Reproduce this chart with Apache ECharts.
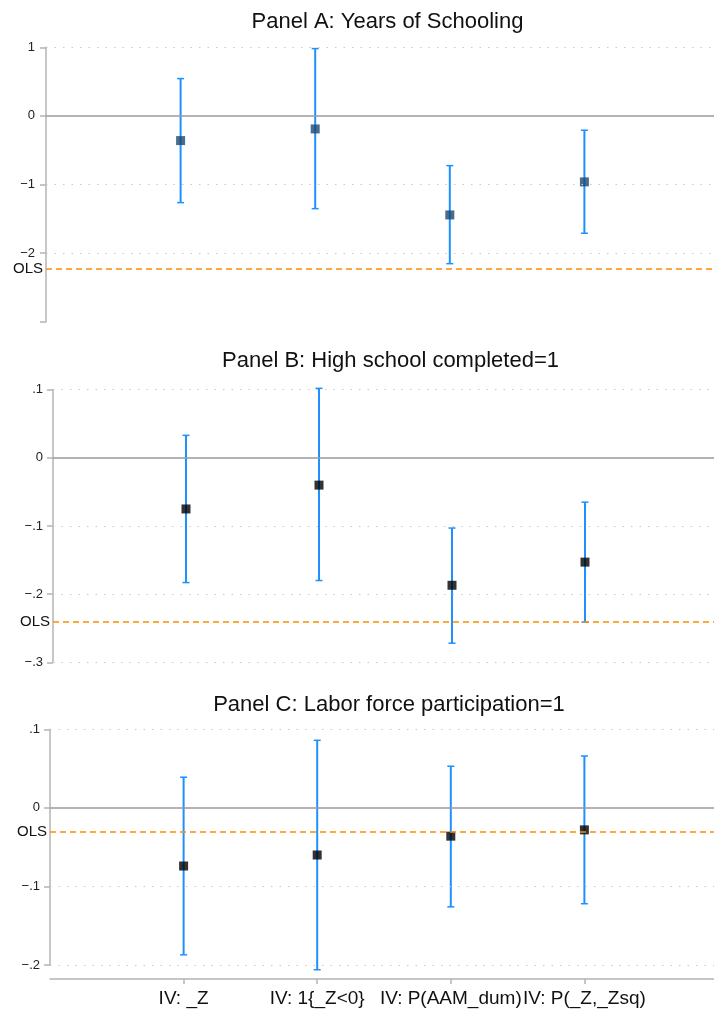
<!DOCTYPE html>
<html>
<head>
<meta charset="utf-8">
<script src="https://cdn.jsdelivr.net/npm/echarts@6/dist/echarts.min.js"></script>
<style>
  html, body { margin: 0; padding: 0; background: #fff; }
  #chart { width: 714px; height: 1013px; }
</style>
</head>
<body>
<div id="chart"></div>
<script>
// Instrument specifications shown on the shared x axis
const categories = ['IV: _Z', 'IV: 1{_Z<0}', 'IV: P(AAM_dum)', 'IV: P(_Z,_Zsq)'];

// Panel A: years of schooling
const schoolingEst = [-0.360, -0.190, -1.444, -0.962];
const schoolingLo  = [-1.264, -1.352, -2.154, -1.711];
const schoolingHi  = [0.544, 0.981, -0.725, -0.209];
const schoolingOLS = -2.227;
const ticksA  = [1, 0, -1, -2, -3];
const labelsA = ['1', '0', '\u22121', '\u22122', ''];

// Panel B: high school completed
const highSchoolEst = [-0.075, -0.040, -0.187, -0.153];
const highSchoolLo  = [-0.183, -0.180, -0.272, -0.241];
const highSchoolHi  = [0.033, 0.102, -0.103, -0.065];
const highSchoolOLS = -0.242;
const ticksB  = [0.1, 0, -0.1, -0.2, -0.3];
const labelsB = ['.1', '0', '\u2212.1', '\u2212.2', '\u2212.3'];

// Panel C: labor force participation
const laborEst = [-0.074, -0.060, -0.036, -0.028];
const laborLo  = [-0.187, -0.206, -0.126, -0.122];
const laborHi  = [0.039, 0.086, 0.053, 0.066];
const laborOLS = -0.034;
const ticksC  = [0.1, 0, -0.1, -0.2];
const labelsC = ['.1', '0', '\u2212.1', '\u2212.2'];

const FONT = "'Liberation Sans', Arial, Helvetica, sans-serif";
const CI_COLOR = '#1e90ff';
const AXIS_GREY = '#b4b4b4';

// Category slots padded with an empty slot at each end so the estimates sit inside the frame
const xSlots = [''].concat(categories, ['']);

const panels = [
  { title: 'Panel A: Years of Schooling', est: schoolingEst, lo: schoolingLo, hi: schoolingHi,
    ols: schoolingOLS, ticks: ticksA, labels: labelsA, step: 1, marker: '#1a476f',
    grid: { left: 46, top: 47.3, width: 673, height: 274.4 }, titleTop: 6, labelMargin: 11 },
  { title: 'Panel B: High school completed=1', est: highSchoolEst, lo: highSchoolLo, hi: highSchoolHi,
    ols: highSchoolOLS, ticks: ticksB, labels: labelsB, step: 0.1, marker: '#000000',
    grid: { left: 53, top: 389.7, width: 665, height: 272.6 }, titleTop: 345, labelMargin: 10 },
  { title: 'Panel C: Labor force participation=1', est: laborEst, lo: laborLo, hi: laborHi,
    ols: laborOLS, ticks: ticksC, labels: labelsC, step: 0.1, marker: '#000000',
    grid: { left: 50, top: 729.3, width: 668, height: 235.7 }, titleTop: 689, labelMargin: 10, showX: true }
];

const option = {
  animation: false,
  backgroundColor: '#ffffff',
  textStyle: { fontFamily: FONT },
  title: [], grid: [], xAxis: [], yAxis: [], series: []
};

panels.forEach((p, k) => {
  option.title.push({
    text: p.title,
    left: p.grid.left + p.grid.width / 2,
    top: p.titleTop,
    textAlign: 'center',
    textStyle: { fontFamily: FONT, fontSize: 22, fontWeight: 'normal', color: '#111' }
  });
  option.grid.push(Object.assign({ containLabel: false, outerBoundsMode: 'none' }, p.grid));

  option.xAxis.push({
    type: 'category',
    gridIndex: k,
    data: xSlots,
    boundaryGap: false,
    show: !!p.showX,
    position: 'bottom',
    offset: 14,
    axisLine: { show: true, onZero: false, lineStyle: { color: AXIS_GREY, width: 1.5 } },
    axisTick: { show: true, length: 5, inside: false, interval: (i, v) => v !== '',
                lineStyle: { color: AXIS_GREY, width: 1.5 } },
    axisLabel: { interval: 0, margin: 10, fontFamily: FONT, fontSize: 19, color: '#111',
                 formatter: v => v },
    splitLine: { show: false }
  });

  const tmin = Math.min.apply(null, p.ticks), tmax = Math.max.apply(null, p.ticks);
  option.yAxis.push({
    type: 'value',
    gridIndex: k,
    min: tmin, max: tmax, interval: p.step,
    axisLine: { show: true, onZero: false, lineStyle: { color: AXIS_GREY, width: 1.5 } },
    axisTick: { show: true, length: 6, lineStyle: { color: AXIS_GREY, width: 1.5 } },
    axisLabel: {
      margin: p.labelMargin, fontFamily: FONT, fontSize: 13, color: '#222',
      showMinLabel: true, showMaxLabel: true,
      formatter: v => {
        const i = p.ticks.findIndex(t => Math.abs(t - v) < 1e-9);
        return i >= 0 ? p.labels[i] : '';
      }
    },
    splitLine: { show: false }
  });

  // Reference lines: dotted grid at labelled non-zero ticks, solid zero line, dashed OLS line
  const gridLines = p.ticks
    .filter((t, i) => t !== 0 && p.labels[i] !== '')
    .map(t => ({ yAxis: t, lineStyle: { type: [1.5, 7], color: '#c8c8c8', width: 1 }, label: { show: false } }));
  option.series.push({
    type: 'line', xAxisIndex: k, yAxisIndex: k, data: [], z: 1, silent: true,
    markLine: {
      silent: true, symbol: 'none', animation: false,
      data: gridLines.concat([
        { yAxis: 0, lineStyle: { type: 'solid', color: '#9a9a9a', width: 1.6 }, label: { show: false } },
        { yAxis: p.ols, lineStyle: { type: [6, 4], color: '#ff8c00', width: 1.5 },
          label: { show: true, position: 'start', distance: 3, formatter: 'OLS',
                   fontFamily: FONT, fontSize: 15, color: '#111' } }
      ])
    }
  });

  // Confidence intervals with end caps
  option.series.push({
    type: 'custom', xAxisIndex: k, yAxisIndex: k, z: 3, clip: false, silent: true,
    data: categories.map((c, i) => [c, p.lo[i], p.hi[i]]),
    renderItem: (params, api) => {
      const top = api.coord([api.value(0), api.value(2)]);
      const bot = api.coord([api.value(0), api.value(1)]);
      const cap = 3.5;
      const st = { stroke: CI_COLOR, lineWidth: 2 };
      const capSt = { stroke: CI_COLOR, lineWidth: 1.5 };
      return {
        type: 'group',
        children: [
          { type: 'line', shape: { x1: top[0], y1: top[1], x2: bot[0], y2: bot[1] }, style: st },
          { type: 'line', shape: { x1: top[0] - cap, y1: top[1], x2: top[0] + cap, y2: top[1] }, style: capSt },
          { type: 'line', shape: { x1: bot[0] - cap, y1: bot[1], x2: bot[0] + cap, y2: bot[1] }, style: capSt }
        ]
      };
    }
  });

  // Point estimates
  option.series.push({
    type: 'scatter', xAxisIndex: k, yAxisIndex: k, z: 4, silent: true,
    symbol: 'rect', symbolSize: 9,
    itemStyle: { color: p.marker },
    data: categories.map((c, i) => [c, p.est[i]])
  });
});

const chart = echarts.init(document.getElementById('chart'), null, { renderer: 'canvas' });
chart.setOption(option);
</script>
</body>
</html>
